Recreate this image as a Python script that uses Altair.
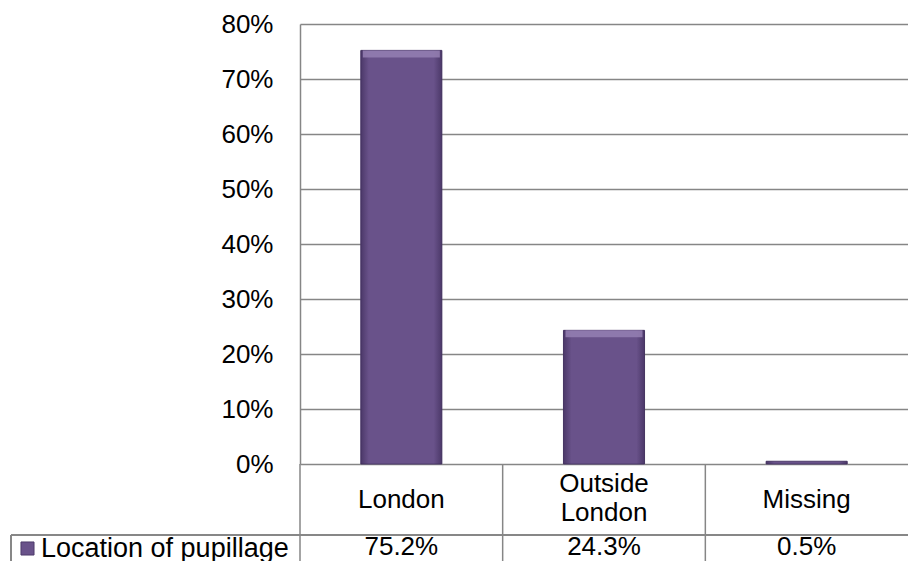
import altair as alt
import pandas as pd

categories = ["London", "Outside London", "Missing"]
values = [75.2, 24.3, 0.5]
value_labels = ["75.2%", "24.3%", "0.5%"]
series_name = "Location of pupillage"
y_ticks = [0, 10, 20, 30, 40, 50, 60, 70, 80]

df = pd.DataFrame({
    "cat": categories,
    "value": [v / 100 for v in values],
    "label": value_labels,
    "series": [series_name] * len(categories),
})

W, H = 608, 440
FONT = "Liberation Sans"
GRID = "#868686"
FS = 26
PURPLE = "#69528a"

x_main = alt.X("cat:N", sort=categories, scale=alt.Scale(paddingInner=0, paddingOuter=0), axis=None)
x_plain = alt.X("cat:N", sort=categories)
y_val = alt.Y("value:Q")

bars = alt.Chart(df).mark_bar(width=alt.RelativeBandSize(0.4), stroke="#4f3d6c", strokeWidth=1).encode(
    x=x_main,
    y=alt.Y("value:Q", scale=alt.Scale(domain=[0, 0.8], nice=False),
            axis=alt.Axis(values=[t / 100 for t in y_ticks], format=".0%", title=None,
                          labelFontSize=FS, labelFont=FONT, labelColor="black",
                          ticks=False, tickSize=0, labelPadding=27,
                          domainColor=GRID, domainWidth=1.5,
                          gridColor=GRID, gridWidth=1.5, gridOpacity=1)),
    color=alt.Color("series:N", scale=alt.Scale(range=[PURPLE]),
                    legend=alt.Legend(title=None, orient="none", legendX=-286, legendY=511,
                                      symbolType="square", symbolSize=170,
                                      symbolStrokeColor="#4d3b6b", symbolStrokeWidth=1,
                                      labelFontSize=FS + 1, labelFont=FONT, labelColor="black",
                                      labelOffset=0, padding=0, symbolOpacity=1,
                                      labelLimit=0)),
)

shade = alt.Chart(df).mark_bar(
    width=alt.RelativeBandSize(0.4),
    color=alt.Gradient(
        gradient="linear", x1=0, x2=1, y1=0, y2=0,
        stops=[
            alt.GradientStop(color="rgba(40,25,65,0.45)", offset=0),
            alt.GradientStop(color="rgba(40,25,65,0)", offset=0.1),
            alt.GradientStop(color="rgba(40,25,65,0)", offset=0.9),
            alt.GradientStop(color="rgba(40,25,65,0.45)", offset=1),
        ],
    ),
).encode(x=x_plain, y=y_val)

bevel = alt.Chart(df).transform_filter("datum.value > 0.05").mark_bar(
    width=alt.RelativeBandSize(0.38), y2Offset=7, color="#9580b3", opacity=0.85,
).encode(x=x_plain, y=y_val, y2=alt.Y2("value:Q"))

# category labels in the first table row (two-word names wrap onto two lines)
cat_base = alt.Chart(df).transform_calculate(
    two="indexof(datum.cat, ' ') > 0",
    top="indexof(datum.cat, ' ') > 0 ? split(datum.cat, ' ')[0] : ''",
    bottom="indexof(datum.cat, ' ') > 0 ? split(datum.cat, ' ')[1] : ''",
    single="indexof(datum.cat, ' ') > 0 ? '' : datum.cat",
).mark_text(fontSize=FS, font=FONT, color="black", baseline="middle", align="center")

cat_single = cat_base.encode(x=x_plain, y=alt.value(H + 36), text="single:N")
cat_top = cat_base.encode(x=x_plain, y=alt.value(H + 20), text="top:N")
cat_bottom = cat_base.encode(x=x_plain, y=alt.value(H + 49), text="bottom:N")

value_text = alt.Chart(df).mark_text(fontSize=FS, font=FONT, color="black", baseline="middle", align="center").encode(
    x=x_plain,
    y=alt.value(H + 83),
    text="label:N",
)

dividers = alt.Chart(df).mark_rule(color=GRID, strokeWidth=1.5).encode(
    x=alt.X("cat:N", sort=categories, bandPosition=0),
    y=alt.value(H),
    y2=alt.value(H + 97),
)

hline = alt.Chart(df).mark_rule(color=GRID, strokeWidth=1.5).encode(
    x=alt.value(-289), x2=alt.value(W), y=alt.value(H + 71),
)

left_border = alt.Chart(df).mark_rule(color=GRID, strokeWidth=1.5).encode(
    x=alt.value(-289), y=alt.value(H + 71), y2=alt.value(H + 97),
)

chart = alt.layer(bars, shade, bevel, cat_single, cat_top, cat_bottom, value_text,
                  dividers, hline, left_border).properties(
    width=W, height=H,
    padding={"left": 292, "top": 16, "right": 0, "bottom": 97},
    autosize=alt.AutoSizeParams(type="none"),
).configure_view(stroke=None)

chart.save("out.html", embed_options={"renderer": "svg", "actions": False})
